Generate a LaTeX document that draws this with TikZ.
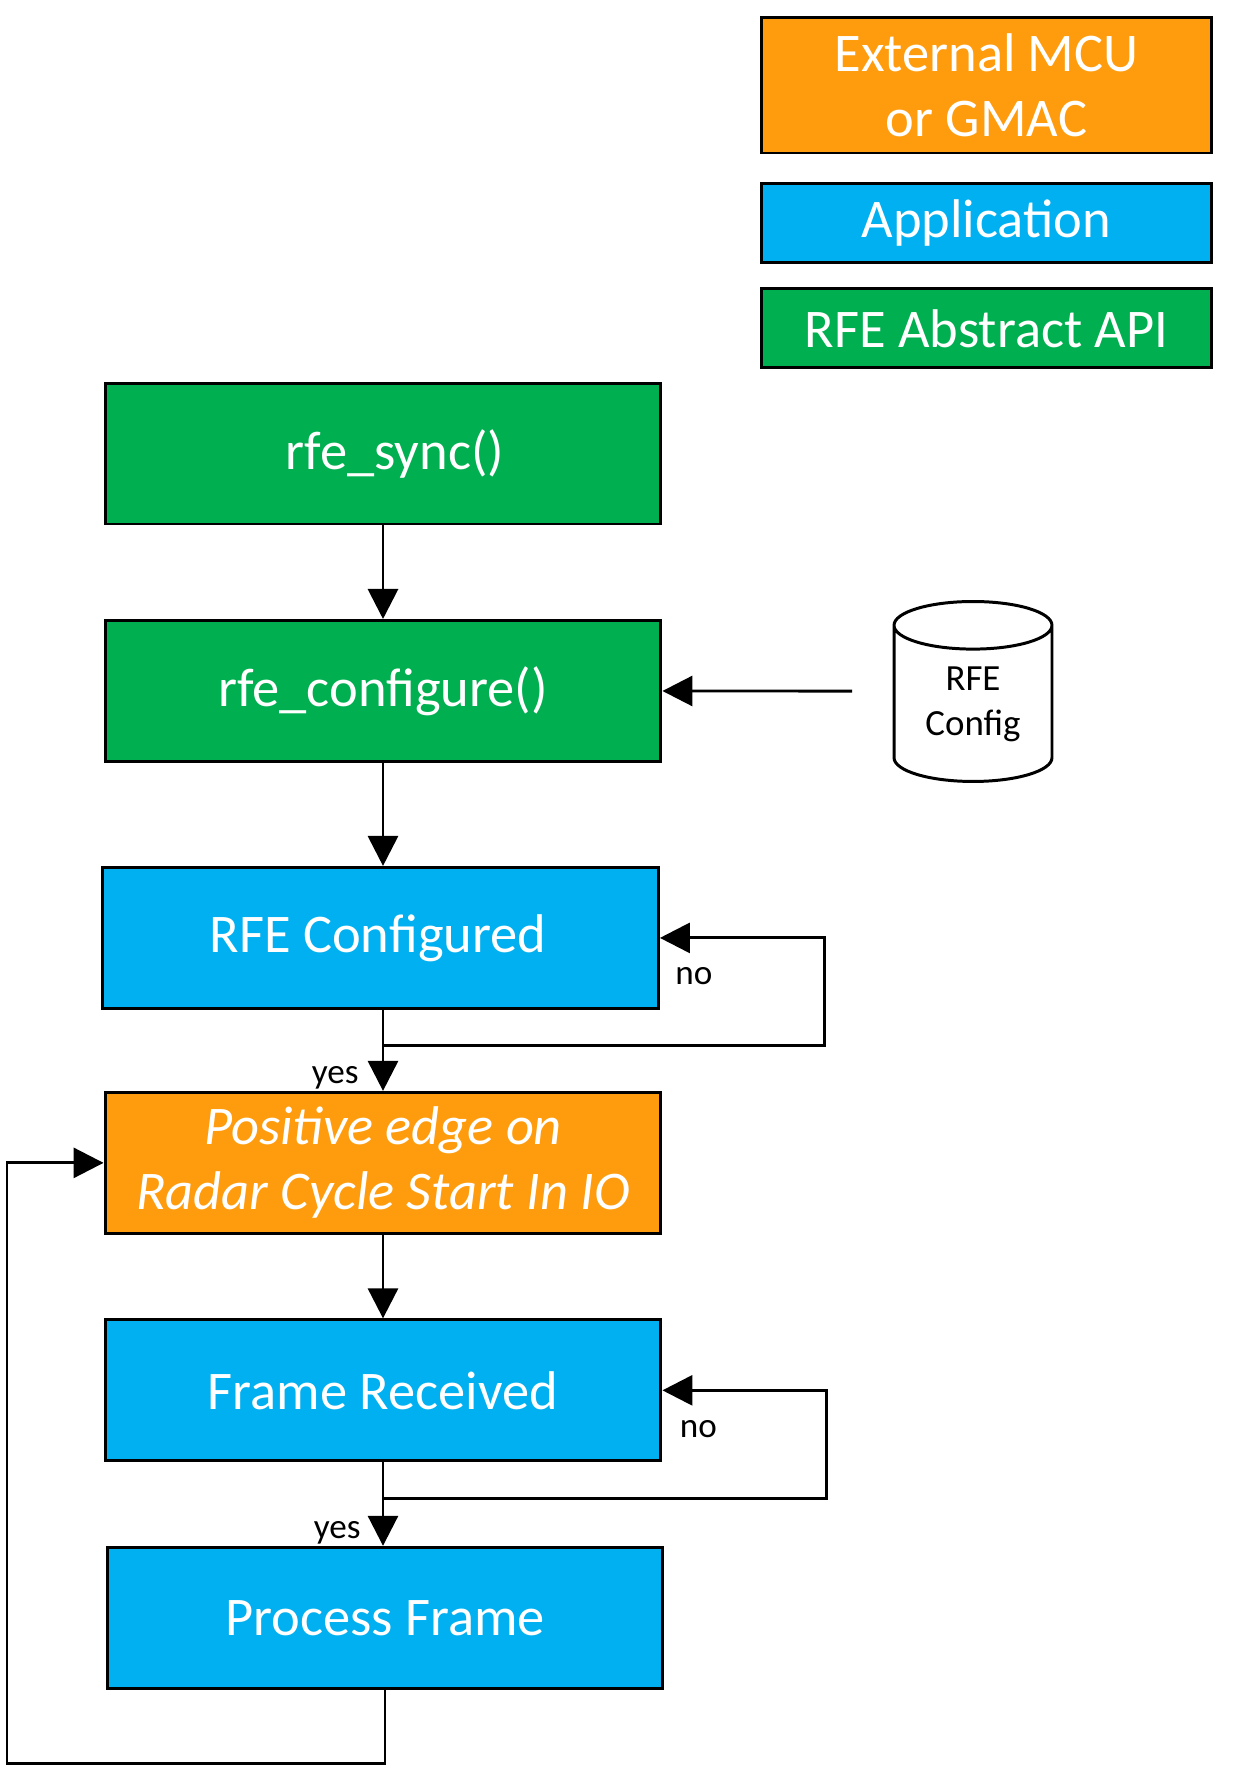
\documentclass[tikz,border=0pt]{standalone}
\usepackage{fontspec}
\setmainfont{Carlito}
\usetikzlibrary{positioning,calc,arrows.meta,shapes.geometric}
\definecolor{rfegreen}{HTML}{00B050}
\definecolor{appblue}{HTML}{00B0F0}
\definecolor{mcuorange}{HTML}{FF9C0D}

\begin{document}
\begin{tikzpicture}[x=0.02cm, y=-0.02cm, on grid, node distance=4.55cm,
    line width=1.7pt, font=\fontsize{31}{37}\selectfont,
    box/.style={draw, rectangle, text=white, align=center,
      minimum width=11.12cm, minimum height=2.82cm, inner sep=0pt},
    legend/.style={box, minimum width=9.02cm},
    lbl/.style={font=\fontsize{20}{24}\selectfont, inner sep=0pt},
    tip/.style={-{Triangle[length=0.6cm, width=0.6cm]}}]
  \useasboundingbox (0,0) rectangle (1260,1766);
  % legend
  \node[legend, fill=mcuorange, minimum height=2.72cm] (lmcu) at (986.5,85) {External MCU\\or GMAC};%
  \node[legend, fill=appblue, minimum height=1.57cm, below=2.76cm of lmcu] (lapp) {Application};%
  \node[legend, fill=rfegreen, minimum height=1.58cm, below=2.11cm of lapp] (lrfe) {RFE Abstract API};%
  % flow
  \node[box, fill=rfegreen] (sync) at (383,453.5) {\hspace*{0.48cm}rfe\_sync()};%
  \node[box, fill=rfegreen, below=4.75cm of sync] (conf) {rfe\_configure()};%
  \node[box, fill=appblue, below=4.94cm of conf, xshift=-0.05cm] (rcfg) {RFE Configured\hspace*{0.1cm}};%
  \node[box, fill=mcuorange, below=4.5cm of rcfg, xshift=0.05cm] (edge) {\itshape Positive edge on\\\itshape Radar Cycle Start In IO};%
  \node[box, fill=appblue, below=of edge] (frame) {Frame Received};%
  \node[box, fill=appblue, below=of frame, xshift=0.04cm] (proc) {Process Frame};%
  \node[cylinder, shape border rotate=90, draw, aspect=0.5, minimum width=3.16cm,
    minimum height=3.6cm, align=center, inner sep=0pt, anchor=north,
    font=\fontsize{21}{25.5}\selectfont] (cfg) at (973,600) {RFE\\Config};%
  \coordinate (cfgout) at (852,691);
  \coordinate (j1) at ($(rcfg.south)+(0,36)$);
  \coordinate (j2) at ($(frame.south)+(0,36)$);
  \coordinate (lb) at (7,1763);
  % connectors
  \draw[tip] (sync) -- (conf);
  \draw[tip] (cfgout) -- (conf);
  \draw[tip] (conf) -- (conf |- rcfg.north);
  \draw[tip] (rcfg.south -| edge) -- (edge);
  \draw[tip] (j1 -| edge) -- ++(441,0) |- (rcfg.east);
  \draw[tip] (edge) -- (frame);
  \draw[tip] (frame) -- (frame |- proc.north);
  \draw[tip] (j2) -- ++(443,0) |- (frame.east);
  \draw[tip] (proc.south) |- (lb) |- (edge.west);
  % labels
  \node[lbl, anchor=west] (no1) at ($(rcfg.east)+(14,38)$) {no};
  \node[lbl, anchor=south east] (yes1) at ($(edge.north)+(-23,0)$) {yes};
  \node[lbl, anchor=west] (no2) at ($(frame.east)+(16,39)$) {no};
  \node[lbl, anchor=south east] (yes2) at ($(frame |- proc.north)+(-21,0)$) {yes};
\end{tikzpicture}
\end{document}
